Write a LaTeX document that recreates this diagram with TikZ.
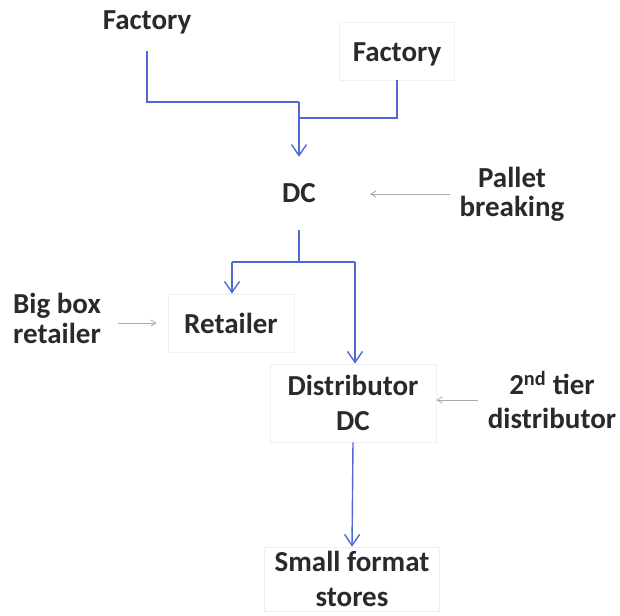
\documentclass[tikz,border=0pt]{standalone}
\usepackage{fontspec}
\setmainfont{Carlito}
\usetikzlibrary{arrows.meta}

\definecolor{flowblue}{RGB}{80,105,215}
\definecolor{sidegray}{RGB}{168,168,174}
\definecolor{inkgray}{RGB}{42,42,46}
\definecolor{boxedge}{RGB}{240,240,242}

\tikzset{
  lbl/.style={font=\bfseries\fontsize{29}{#1}\selectfont, text=inkgray,
    align=center, inner sep=0pt},
  lbl/.default=35,
  frame/.style={draw=boxedge, line width=0.7pt},
  flow/.style={draw=flowblue, line width=1.4pt},
  flowarrow/.style={flow, -{Straight Barb[length=11pt,width=15pt,line width=1.4pt]}},
  sidearrow/.style={draw=sidegray, line width=0.8pt,
    -{Straight Barb[length=5pt,width=6pt,line width=0.8pt]}},
}

\begin{document}
\begin{tikzpicture}[x=1pt,y=-1pt]
\useasboundingbox (0,0) rectangle (620,615);

% supply side
\node[lbl, minimum width=110pt, minimum height=58pt] (f1) at (147,22) {Factory};
\node[lbl, frame, minimum width=115pt, minimum height=58pt,
      text height=28pt, text depth=6pt] (f2) at (397,51) {Factory};

% distribution centre and its side note
\node[lbl, minimum width=142pt, minimum height=73pt] (dc) at (299,193.5) {DC};
\node[lbl=29, inner xsep=9pt] (pb) at (512,194) {Pallet\\breaking};

% retail branch
\node[lbl, frame, minimum width=126pt, minimum height=58pt] (ret) at (231,323) {Retailer};
\node[lbl=30, inner xsep=17pt] (bbr) at (57,318) {Big box\\retailer};

% distributor branch
\node[lbl=35, frame, minimum width=166pt, minimum height=78pt] (ddc) at (353,403) {Distributor\\DC};
\node[lbl=34, inner xsep=9.5pt] (tier2) at (552,400) {2\textsuperscript{nd} tier\\distributor};

\node[lbl=35, frame, minimum width=175pt, minimum height=64pt] (sfs) at (352,579) {Small format\\stores};

% merge of the two factory flows
\coordinate (j1) at (299,102);
\coordinate (j2) at (299,118);
\draw[flow] (f1.south) |- (j1);
\draw[flow] (f2.south) |- (j2);
\draw[flowarrow] (j1) -- (dc.north);

% split below the DC
\coordinate (bl) at (232,262);
\coordinate (br) at (355,262);
\draw[flow] (dc.south) -- (dc.south |- bl);
\draw[flow] (bl) -- (br);
\draw[flowarrow] (bl) -- (bl |- ret.north);
\draw[flowarrow] (br) -- (br |- ddc.north);
\draw[flowarrow] (ddc.south) -- (sfs.north);

% side notes
\draw[sidearrow] (pb.west) -- (pb.west -| dc.east);
\draw[sidearrow, shorten >=11pt] (bbr.east |- ret.west) -- (ret.west);
\draw[sidearrow] (tier2.west) -- (tier2.west -| ddc.east);
\end{tikzpicture}
\end{document}
